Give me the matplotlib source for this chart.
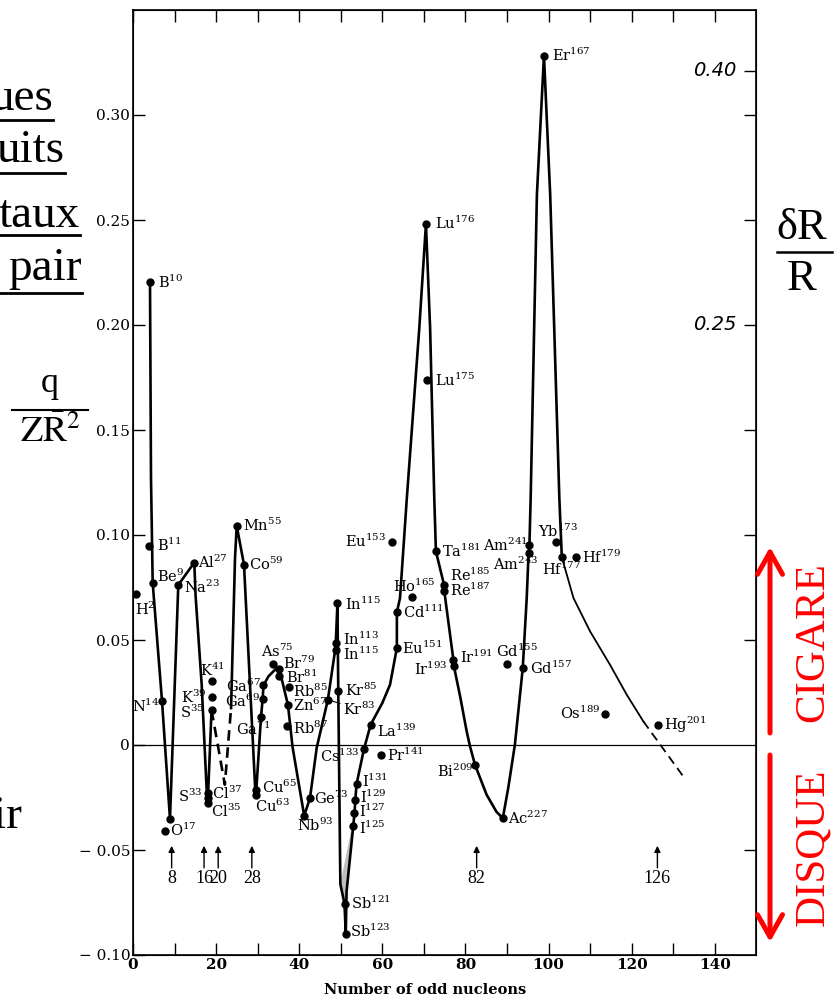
import matplotlib
matplotlib.use('Agg')
import matplotlib.pyplot as plt
import numpy as np

plt.rcParams['font.family'] = ['DejaVu Serif']
plt.rcParams['mathtext.fontset'] = 'dejavuserif'

# isotopes: symbol, mass number, odd nucleons, q/ZR^2
iso_sym = ['H', 'B', 'B', 'Be', 'N', 'O', 'Na', 'Al', 'K', 'K', 'S', 'Cl', 'S', 'Cl',
           'Mn', 'Co', 'Cu', 'Cu', 'Ga', 'Ga', 'Ga', 'As', 'Br', 'Br', 'Rb', 'Zn', 'Rb',
           'Nb', 'Ge', 'Kr', 'Kr', 'In', 'In', 'In', 'Sb', 'Sb', 'I', 'I', 'I', 'I',
           'Cs', 'Pr', 'La', 'Eu', 'Cd', 'Eu', 'Ho', 'Lu', 'Lu', 'Ta', 'Re', 'Re',
           'Ir', 'Ir', 'Bi', 'Ac', 'Gd', 'Gd', 'Am', 'Am', 'Er', 'Yb', 'Hf', 'Hf',
           'Os', 'Hg']
iso_mass = [2, 10, 11, 9, 14, 17, 23, 27, 41, 39, 35, 37, 33, 35,
            55, 59, 65, 63, 71, 69, 67, 75, 79, 81, 85, 67, 87,
            93, 73, 83, 85, 113, 115, 115, 121, 123, 125, 127, 129, 131,
            133, 141, 139, 151, 111, 153, 165, 176, 175, 181, 185, 187,
            191, 193, 209, 227, 155, 157, 243, 241, 167, 173, 177, 179,
            189, 201]
iso_x = [0.7, 4.09, 3.92, 4.74, 6.98, 7.70, 10.9, 14.75, 18.94, 19.09, 18.9, 17.98, 17.98, 17.98,
         24.96, 26.71, 29.6, 29.6, 30.8, 31.2, 31.4, 33.6, 35.2, 35.1, 37.6, 37.3, 37.1,
         41.2, 42.6, 46.9, 49.4, 48.8, 48.8, 49.2, 50.9, 51.2, 53.0, 53.3, 53.5, 53.8,
         55.6, 59.7, 57.2, 63.5, 63.5, 62.3, 67.2, 70.5, 70.8, 72.9, 74.85, 74.9,
         77.1, 77.2, 82.3, 89.0, 89.9, 93.8, 95.2, 95.4, 98.9, 101.8, 103.2, 106.6,
         113.6, 126.3]
iso_y = [0.072, 0.2205, 0.0949, 0.0771, 0.021, -0.0408, 0.0762, 0.0869, 0.0305, 0.023, 0.0167,
         -0.0229, -0.0252, -0.0276,
         0.1044, 0.0859, -0.0213, -0.0237, 0.0132, 0.0219, 0.0284, 0.0386, 0.0363, 0.0329,
         0.0275, 0.019, 0.009,
         -0.0337, -0.0252, 0.0216, 0.0256, 0.0486, 0.0451, 0.0676, -0.0756, -0.0899,
         -0.0387, -0.0326, -0.0264, -0.0186,
         -0.0018, -0.0049, 0.0097, 0.0462, 0.0632, 0.0967, 0.0703, 0.2481, 0.1737, 0.0922,
         0.0763, 0.0735,
         0.0406, 0.0378, -0.0094, -0.0348, 0.0387, 0.0367, 0.0914, 0.0951, 0.3282, 0.0967,
         0.0894, 0.0894,
         0.0149, 0.0097]

# label placement (offset in pixels, alignment)
lab_pos = [(9, -16, 'center'), (8, 0, 'left'), (8, 0, 'left'), (4, 7, 'left'), (-2, -5, 'right'),
           (5, 0, 'left'), (6, -2, 'left'), (4, 0, 'left'), (1, 11, 'center'), (-6, -1, 'right'),
           (-7, -2, 'right'), (4, 0, 'left'), (-5, 2, 'right'), (3, -8, 'left'),
           (6, 0, 'left'), (5, 0, 'left'), (6, 2, 'left'), (-1, -12, 'left'), (-8, -12, 'center'),
           (-3, -2, 'right'), (-3, -1, 'right'), (5, 13, 'center'), (4, 5, 'left'), (7, -1, 'left'),
           (4, -4, 'left'), (5, 0, 'left'), (6, -2, 'left'),
           (11, -10, 'center'), (4, 0, 'left'), (15, -10, 'left'), (7, 1, 'left'), (7, 4, 'left'),
           (7, -4, 'left'), (8, -1, 'left'), (6, 0, 'left'), (4, 2, 'left'),
           (6, -2, 'left'), (5, 2, 'left'), (5, 3, 'left'), (5, 3, 'left'),
           (-4, -8, 'right'), (6, 0, 'left'), (6, -7, 'left'), (5, 0, 'left'), (6, 0, 'left'),
           (-6, 1, 'right'), (2, 11, 'center'), (9, 1, 'left'), (8, 0, 'left'), (6, 0, 'left'),
           (6, 9, 'left'), (6, 0, 'left'),
           (7, 2, 'left'), (-6, -4, 'right'), (-2, -7, 'right'), (5, 0, 'left'), (10, 12, 'center'),
           (7, 0, 'left'), (-13, -11, 'center'), (-2, 0, 'right'), (8, 0, 'left'), (2, 11, 'center'),
           (0, -12, 'center'), (6, 0, 'left'),
           (-5, 0, 'right'), (6, 0, 'left')]

# hand drawn curve through the points
c1_x = [4.09, 4.33, 4.74, 6.98, 8.9, 10.9, 14.75, 15.07, 16.53, 17.74, 17.98, 18.9]
c1_y = [0.2205, 0.127, 0.0771, 0.021, -0.0352, 0.0762, 0.0869, 0.0708, 0.0287, -0.022, -0.0276, 0.0167]
c2_x = [18.9, 22.1, 23.6]
c2_y = [0.0167, -0.0189, 0.0176]
c3_x = [23.6, 24.55, 24.96, 26.71, 29.4, 29.6, 30.8, 31.2, 31.4, 32.6, 34.2, 35.2, 35.6, 37.3,
        38.4, 41.2, 42.6, 44.2, 46.9, 48.6, 48.8, 49.2, 49.4, 49.9, 50.9, 51.2, 51.4, 53.0,
        53.3, 53.5, 53.8, 55.6, 57.2, 60.0, 61.85, 63.5, 63.5, 64.26, 65.9, 68.9, 70.5, 71.5, 72.5,
        72.9, 74.85, 74.9, 77.1, 77.2, 78.8, 80.3, 81.1, 82.3, 85.1, 87.5, 89.0, 90.3, 91.9,
        93.8, 94.75, 95.2, 95.4, 95.7, 97.2, 98.9, 100.4, 102.6, 103.2]
c3_y = [0.0176, 0.089, 0.1044, 0.0859, -0.0205, -0.0237, 0.0132, 0.0219, 0.0284, 0.0327, 0.0359,
        0.0363, 0.033, 0.019,
        -0.001, -0.0337, -0.0252, -0.0014, 0.0216, 0.0446, 0.0486, 0.0676, 0.0256, -0.0662,
        -0.0756, -0.0899, -0.0697, -0.0387,
        -0.0326, -0.0264, -0.0186, -0.0018, 0.0097, 0.020, 0.0287, 0.0462, 0.0632, 0.070, 0.1176,
        0.1986, 0.2481, 0.1986, 0.1176,
        0.0922, 0.0763, 0.0735, 0.0406, 0.0378, 0.0224, 0.0065, -0.0006, -0.0094, -0.0237,
        -0.0319, -0.0348, -0.0205, 0.0001,
        0.0367, 0.070, 0.0914, 0.0951, 0.1176, 0.262, 0.3282, 0.262, 0.1176, 0.0894]
c4_x = [103.2, 106.0, 110.0, 114.8, 118.8, 122.8]
c4_y = [0.0894, 0.070, 0.0541, 0.0382, 0.024, 0.0113]
c5_x = [122.8, 132.4]
c5_y = [0.0113, -0.0149]

extra_x = [8.9]
extra_y = [-0.0352]

magic = ['8', '16', '20', '28', '82', '126']
magic_x = [9.3, 17.1, 20.5, 28.6, 82.7, 126.2]

yt = [-0.10, -0.05, 0, 0.05, 0.10, 0.15, 0.20, 0.25, 0.30]
yt_lab = ['\u2212 0.10', '\u2212 0.05', '0', '0.05', '0.10', '0.15', '0.20', '0.25', '0.30']
right_t = [-0.05, 0.05, 0.10, 0.15, 0.20, 0.25, 0.30, 0.321]
hand_lab = [(0.321, '0.40'), (0.20, '0.25')]

W, H = 836, 998
fig = plt.figure(figsize=(W / 100, H / 100), dpi=100)
ax = fig.add_axes([133 / W, 43 / H, 623.3 / W, 945 / H])
ax.set_xlim(0, 150)
ax.set_ylim(-0.10, 0.35)

ax.axhline(0, color='k', lw=0.9, zorder=1)

ax.plot(c1_x, c1_y, color='k', lw=1.9, solid_joinstyle='round')
ax.plot(c2_x, c2_y, color='k', lw=1.9, dashes=(4, 2.5))
ax.plot(c3_x, c3_y, color='k', lw=1.9, solid_joinstyle='round')
ax.plot(c4_x, c4_y, color='k', lw=1.3)
ax.plot(c5_x, c5_y, color='k', lw=1.3, dashes=(5, 3))

cx = np.array(c3_x)
cy = np.array(c3_y)
m = (cx > 49.5) & (cx < 54) & (cy < -0.03)
ax.fill(cx[m], cy[m], color='0.75', lw=0, zorder=0)

ax.plot(iso_x, iso_y, 'o', color='k', ms=5, zorder=3)
ax.plot(extra_x, extra_y, 'o', color='k', ms=5, zorder=3)

for s, a, x, y, (dx, dy, ha) in zip(iso_sym, iso_mass, iso_x, iso_y, lab_pos):
    kw = {}
    if s == 'Kr' and a == 83:
        kw['arrowprops'] = dict(arrowstyle='-', lw=0.8, color='k', shrinkA=0, shrinkB=2)
    ax.annotate(f'{s}$^{{{a}}}$', (x, y), xytext=(dx, dy), textcoords='offset pixels',
                ha=ha, va='center', fontsize=10.5, **kw)

for lab, xm in zip(magic, magic_x):
    ax.annotate('', xy=(xm, -0.048), xytext=(xm, -0.0585),
                arrowprops=dict(arrowstyle='-|>', color='k', lw=1, mutation_scale=9, shrinkA=0, shrinkB=0))
    ax.text(xm, -0.0637, lab, ha='center', va='center', fontsize=13, family='Liberation Serif')

ax.set_xticks(range(0, 141, 20))
ax.set_xticks(range(10, 141, 20), minor=True)
ax.tick_params(axis='x', which='both', direction='in', top=True, length=8.6, width=1, pad=2,
               labelsize=11)
for t in ax.get_xticklabels():
    t.set_fontweight('bold')
ax.set_yticks(yt)
ax.set_yticklabels(yt_lab)
ax.tick_params(axis='y', direction='in', length=8.6, width=1, pad=2, labelsize=11)
for sp in ax.spines.values():
    sp.set_linewidth(1.2)

axr = ax.twinx()
axr.set_ylim(ax.get_ylim())
axr.set_yticks(right_t)
axr.set_yticklabels([])
axr.tick_params(axis='y', direction='in', length=8.6, width=1)
for yv, lab in hand_lab:
    ax.text(145.2, yv, lab, ha='right', va='center', fontsize=14, style='italic',
            family='DejaVu Sans')

fig.text(425 / W, 1 - 990 / H, 'Number of odd nucleons', ha='center', va='center',
         fontsize=10.5, fontweight='bold')

# slide annotations around the scanned figure
side = 'Liberation Serif'
left_words = ['ues', 'uits', 'taux', 'pair', 'ir']
left_end = [53, 65, 80, 82, 22]
left_base = [110, 162, 227, 280, 828]
left_line = [120, 173, 235, 293, None]
for w, xe, yb, yl in zip(left_words, left_end, left_base, left_line):
    fig.text(xe / W, 1 - yb / H, w, ha='right', va='baseline', fontsize=34, family=side)
    if yl is not None:
        fig.add_artist(plt.Line2D([0, xe / W], [1 - yl / H] * 2, color='k', lw=2))

fig.text(50 / W, 1 - 384 / H, 'q', ha='center', va='center', fontsize=26, family=side)
fig.add_artist(plt.Line2D([12 / W, 88 / W], [1 - 410 / H] * 2, color='k', lw=1.5))
fig.text(50 / W, 1 - 432 / H, r'$\mathrm{Z\bar{R}}^{2}$', ha='center', va='center',
         fontsize=26, math_fontfamily='stix')

fig.text(802 / W, 1 - 228 / H, '\u03b4R', ha='center', va='center', fontsize=32, family=side)
fig.add_artist(plt.Line2D([777 / W, 832 / W], [1 - 252 / H] * 2, color='k', lw=1.8))
fig.text(802 / W, 1 - 279 / H, 'R', ha='center', va='center', fontsize=32, family=side)

red = '#ff0000'
arrow_style = dict(arrowstyle='->,head_length=0.8,head_width=0.45', color=red, lw=3.6,
                   mutation_scale=20, shrinkA=0, shrinkB=0)
fig.add_artist(plt.Annotation('', xy=(770, H - 547), xytext=(770, H - 733),
                              xycoords='figure pixels', textcoords='figure pixels',
                              arrowprops=arrow_style))
fig.add_artist(plt.Annotation('', xy=(770, H - 942), xytext=(770, H - 755),
                              xycoords='figure pixels', textcoords='figure pixels',
                              arrowprops=arrow_style))
fig.text(813 / W, 1 - 642 / H, 'CIGARE', rotation=90, ha='center', va='center', fontsize=31,
         family=side, color=red)
fig.text(813 / W, 1 - 847 / H, 'DISQUE', rotation=90, ha='center', va='center', fontsize=31,
         family=side, color=red)

fig.savefig('out.png', dpi=100)
